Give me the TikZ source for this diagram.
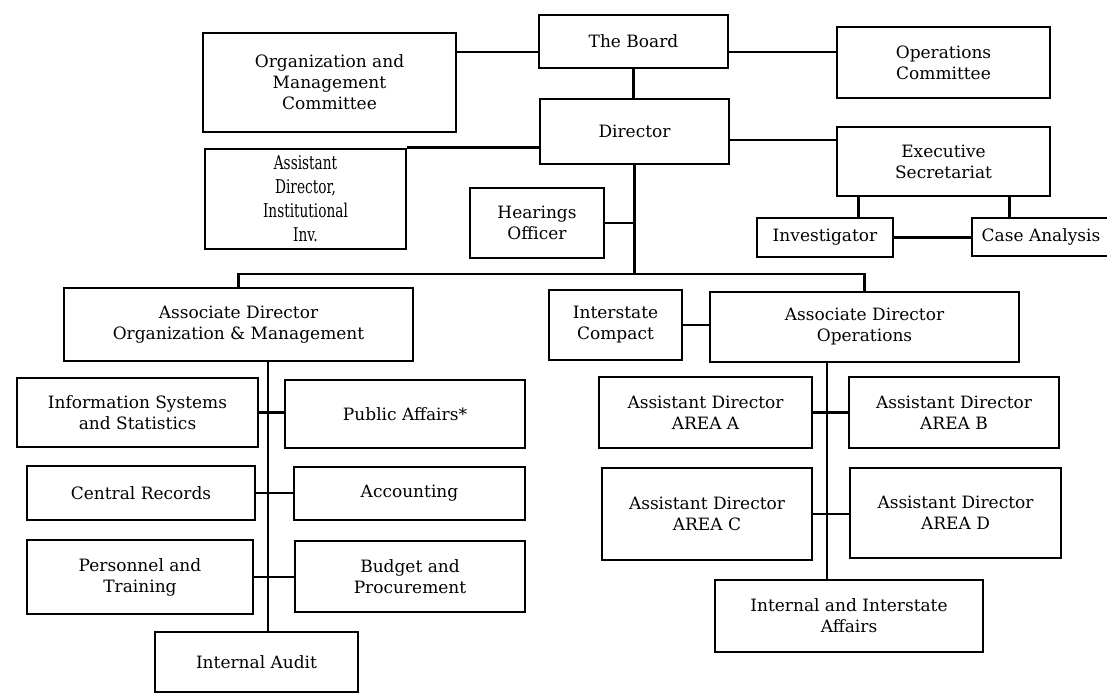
\documentclass[tikz,border=0pt]{standalone}
\usepackage{fontspec}
\setmainfont{DejaVu Serif}
\newfontfamily\narrowface{DejaVu Serif}[FakeStretch=0.72]
\tikzset{
  unit/.style={draw, line width=2.8pt, align=center, inner sep=0pt,
               font=\fontsize{17}{21}\selectfont},
  narrowunit/.style={unit, font=\narrowface\fontsize{19}{24}\selectfont},
  link/.style={line width=2.6pt}
}
\begin{document}
\begin{tikzpicture}[x=1pt,y=-1pt]
   \useasboundingbox (0,0) rectangle (1107,694);
   \node[unit, minimum width=189pt, minimum height=53pt] (board)     at ( 633.5, 41.5) {The Board};
   \node[unit, minimum width=253pt, minimum height=99pt] (orgcom)    at ( 329.5, 82.5) {Organization and\\Management\\Committee};
   \node[unit, minimum width=213pt, minimum height=71pt] (opscom)    at ( 943.5, 62.5) {Operations\\Committee};
   \node[unit, minimum width=189pt, minimum height=65pt] (director)  at ( 634.5,131.5) {Director};
   \node[narrowunit, minimum width=201pt, minimum height=100pt] (asstinst) at ( 305.5,199.0) {Assistant\\Director,\\Institutional\\Inv.};
   \node[unit, minimum width=213pt, minimum height=69pt] (exec)      at ( 943.5,161.5) {Executive\\Secretariat};
   \node[unit, minimum width=134pt, minimum height=70pt] (hearings)  at ( 537.0,223.0) {Hearings\\Officer};
   \node[unit, minimum width=136pt, minimum height=39pt] (invest)    at ( 825.0,237.5) {Investigator};
   \node[unit, minimum width=170pt, minimum height=38pt] (caseana)   at (1057.0,237.0) {\hspace*{-32pt}Case Analysis};
   \node[unit, minimum width=349pt, minimum height=73pt] (om)        at ( 238.5,324.5) {Associate Director\\Organization \& Management};
   \node[unit, minimum width=133pt, minimum height=70pt] (interstate) at ( 615.5,325.0) {Interstate\\Compact};
   \node[unit, minimum width=309pt, minimum height=70pt] (adops)     at ( 864.5,327.0) {Associate Director\\Operations};
   \node[unit, minimum width=241pt, minimum height=69pt] (info)      at ( 137.5,412.5) {Information Systems\\and Statistics};
   \node[unit, minimum width=240pt, minimum height=68pt] (public)    at ( 405.0,414.0) {Public Affairs*};
   \node[unit, minimum width=228pt, minimum height=54pt] (central)   at ( 141.0,493.0) {Central Records};
   \node[unit, minimum width=231pt, minimum height=53pt] (accounting) at ( 409.5,493.5) {Accounting};
   \node[unit, minimum width=226pt, minimum height=74pt] (personnel) at ( 140.0,577.0) {Personnel and\\Training};
   \node[unit, minimum width=230pt, minimum height=71pt] (budget)    at ( 410.0,576.5) {Budget and\\Procurement};
   \node[unit, minimum width=203pt, minimum height=60pt] (audit)     at ( 256.5,662.0) {Internal Audit};
   \node[unit, minimum width=213pt, minimum height=71pt] (areaA)     at ( 705.5,412.5) {Assistant Director\\AREA A};
   \node[unit, minimum width=210pt, minimum height=71pt] (areaB)     at ( 954.0,412.5) {Assistant Director\\AREA B};
   \node[unit, minimum width=210pt, minimum height=92pt] (areaC)     at ( 707.0,514.0) {Assistant Director\\AREA C};
   \node[unit, minimum width=211pt, minimum height=90pt] (areaD)     at ( 955.5,513.0) {Assistant Director\\AREA D};
   \node[unit, minimum width=268pt, minimum height=72pt] (intaff)    at ( 849.0,616.0) {Internal and Interstate\\Affairs};
   \coordinate (boardline) at (0,52);
   \coordinate (execline)  at (0,140);
   \coordinate (bus)       at (0,274);
   \coordinate (ltrunk)    at (268,0);
   \coordinate (rtrunk)    at (827,0);
   \draw[link] (orgcom.east |- boardline) -- (board.west |- boardline);
   \draw[link] (board.east |- boardline) -- (opscom.west |- boardline);
   \draw[link] (board.south) -- (board.south |- director.north);
   \draw[link] (asstinst.north east) -- (asstinst.north east -| director.west);
   \draw[link] (director.east |- execline) -- (exec.west |- execline);
   \draw[link] (director.south) -- (director.south |- bus);
   \draw[link] (hearings.east) -- (hearings.east -| director.south);
   \draw[link] (om.north) -- (om.north |- bus) -- (adops.north |- bus) -- (adops.north);
   \draw[link] ([xshift=23pt]exec.south west) -- ([xshift=23pt]exec.south west |- invest.north);
   \draw[link] ([xshift=-42pt]exec.south east) -- ([xshift=-42pt]exec.south east |- caseana.north);
   \draw[link] (invest.east) -- (invest.east -| caseana.west);
   \draw[link] (interstate.east) -- (interstate.east -| adops.west);
   \draw[link] (om.south -| ltrunk) -- (audit.north -| ltrunk);
   \draw[link] (info.east) -- (info.east -| public.west);
   \draw[link] (central.east) -- (central.east -| accounting.west);
   \draw[link] (personnel.east) -- (personnel.east -| budget.west);
   \draw[link] (adops.south -| rtrunk) -- (intaff.north -| rtrunk);
   \draw[link] (areaA.east) -- (areaA.east -| areaB.west);
   \draw[link] (areaC.east) -- (areaC.east -| areaD.west);
\end{tikzpicture}
\end{document}
